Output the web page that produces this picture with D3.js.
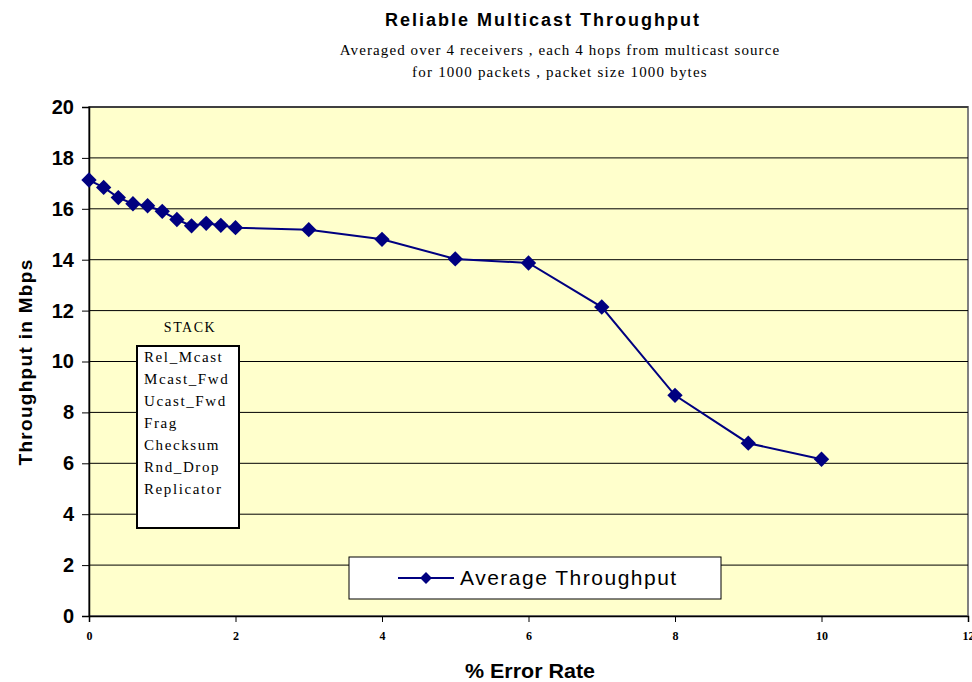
<!DOCTYPE html>
<html>
<head>
<meta charset="utf-8">
<script src="https://cdn.jsdelivr.net/npm/d3@7"></script>
<style>
body { margin: 0; background: #fff; }
svg { display: block; }
</style>
</head>
<body>
<div id="chart"></div>
<script>
var errorRate = [0, 0.2, 0.4, 0.6, 0.8, 1.0, 1.2, 1.4, 1.6, 1.8, 2, 3, 4, 5, 6, 7, 8, 9, 10];
var throughput = [17.13, 16.84, 16.44, 16.2, 16.12, 15.9, 15.58, 15.33, 15.43, 15.35, 15.26, 15.18, 14.8, 14.03, 13.87, 12.14, 8.67, 6.79, 6.16];
var yTicks = [0, 2, 4, 6, 8, 10, 12, 14, 16, 18, 20];
var xTicks = [0, 2, 4, 6, 8, 10, 12];
var stackItems = ["Rel_Mcast", "Mcast_Fwd", "Ucast_Fwd", "Frag", "Checksum", "Rnd_Drop", "Replicator"];
var seriesName = "Average Throughput";

function drawChart(where){
	var W = 972, H = 682;
	var pLeft = 89, pRight = 968, pTop = 107, pBottom = 616;
	var lineColor = "#000080";
	var serif = "Liberation Serif, Times New Roman, serif";
	var sans = "Liberation Sans, Arial, sans-serif";

	var svg = d3.select(where).append("svg").attr("width", W).attr("height", H);

	var x = d3.scaleLinear().domain([0, 12]).range([pLeft, pRight]);
	var y = d3.scaleLinear().domain([0, 20]).range([pBottom, pTop]);

	// plot area
	svg.append("rect").attr("x", pLeft).attr("y", pTop)
		.attr("width", pRight - pLeft).attr("height", pBottom - pTop)
		.style("fill", "#FFFFCC").style("stroke", "#808080").style("stroke-width", 2);

	// gridlines
	svg.selectAll(".grid").data(yTicks.filter(function(d){ return d > 0; })).enter()
		.append("line").attr("class", "grid")
		.attr("x1", pLeft).attr("x2", pRight)
		.attr("y1", function(d){ return y(d); }).attr("y2", function(d){ return y(d); })
		.style("stroke", "#000").style("stroke-width", 1);

	// axes
	var yAxis = svg.append("g").attr("transform", "translate(" + pLeft + ",0)")
		.call(d3.axisLeft(y).tickValues(yTicks).tickSize(7).tickPadding(8));
	yAxis.select(".domain").style("stroke", "#000").style("stroke-width", 1.5);
	yAxis.selectAll("text").style("font-family", sans)
		.style("font-weight", "bold").style("font-size", "20px").attr("fill", "#000");

	var xAxis = svg.append("g").attr("transform", "translate(0," + pBottom + ")")
		.call(d3.axisBottom(x).tickValues(xTicks).tickSize(6).tickPadding(9));
	xAxis.select(".domain").style("stroke", "#000").style("stroke-width", 1.5);
	xAxis.selectAll("text").style("font-family", serif)
		.style("font-weight", "bold").style("font-size", "12px").attr("fill", "#000");

	// series
	var pts = errorRate.map(function(d, i){ return [d, throughput[i]]; });
	svg.append("path").datum(pts)
		.attr("d", d3.line().x(function(d){ return x(d[0]); }).y(function(d){ return y(d[1]); }))
		.style("fill", "none").style("stroke", lineColor).style("stroke-width", 2);

	var diamond = d3.symbol().type(d3.symbolDiamond2).size(150);
	svg.selectAll(".pt").data(pts).enter().append("path").attr("class", "pt")
		.attr("d", diamond)
		.attr("transform", function(d){ return "translate(" + x(d[0]) + "," + y(d[1]) + ")"; })
		.style("fill", lineColor);

	// titles
	svg.append("text").attr("x", 543).attr("y", 26).attr("text-anchor", "middle")
		.style("font-family", sans).style("font-weight", "bold")
		.style("font-size", "18px").style("letter-spacing", "2px")
		.text("Reliable Multicast Throughput");
	svg.append("text").attr("x", 560).attr("y", 55).attr("text-anchor", "middle")
		.style("font-family", serif).style("font-size", "15px").style("letter-spacing", "1.1px")
		.text("Averaged over 4 receivers , each 4 hops from multicast source");
	svg.append("text").attr("x", 560).attr("y", 77).attr("text-anchor", "middle")
		.style("font-family", serif).style("font-size", "15px").style("letter-spacing", "1.2px")
		.text("for 1000 packets , packet size 1000 bytes");

	svg.append("text").attr("transform", "translate(32,362) rotate(-90)").attr("text-anchor", "middle")
		.style("font-family", sans).style("font-weight", "bold")
		.style("font-size", "19px").style("letter-spacing", "1.3px").text("Throughput in Mbps");
	svg.append("text").attr("x", 530).attr("y", 678).attr("text-anchor", "middle")
		.attr("textLength", 130).attr("lengthAdjust", "spacingAndGlyphs")
		.style("font-family", sans).style("font-weight", "bold")
		.style("font-size", "21px").text("% Error Rate");

	// stack box
	svg.append("text").attr("x", 190).attr("y", 332).attr("text-anchor", "middle")
		.style("font-family", serif).style("font-size", "14px")
		.style("letter-spacing", "1.5px").text("STACK");
	svg.append("rect").attr("x", 137).attr("y", 346).attr("width", 102).attr("height", 182)
		.style("fill", "#fff").style("stroke", "#000").style("stroke-width", 2);
	svg.selectAll(".stk").data(stackItems).enter().append("text").attr("class", "stk")
		.attr("x", 144).attr("y", function(d, i){ return 362 + i * 22; })
		.style("font-family", serif).style("font-size", "15px")
		.style("letter-spacing", "1.6px").text(function(d){ return d; });

	// legend
	svg.append("rect").attr("x", 349).attr("y", 557).attr("width", 372).attr("height", 42)
		.style("fill", "#fff").style("stroke", "#000").style("stroke-width", 1);
	svg.append("line").attr("x1", 398).attr("x2", 454).attr("y1", 578).attr("y2", 578)
		.style("stroke", lineColor).style("stroke-width", 2);
	svg.append("path").attr("d", d3.symbol().type(d3.symbolDiamond2).size(90))
		.attr("transform", "translate(426,578)").style("fill", lineColor);
	svg.append("text").attr("x", 460).attr("y", 585)
		.style("font-family", sans).style("font-size", "21px").style("letter-spacing", "1.5px")
		.text(seriesName);
}

drawChart("#chart");
</script>
</body>
</html>
